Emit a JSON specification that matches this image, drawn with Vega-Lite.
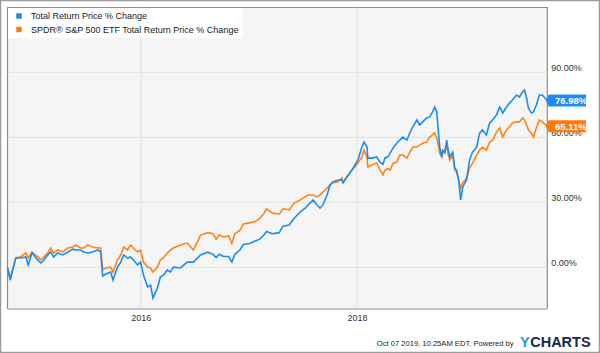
{
  "$schema": "https://vega.github.io/schema/vega-lite/v6.json",
  "width": 600,
  "height": 353,
  "padding": 0,
  "autosize": {"type": "none"},
  "background": "white",
  "config": {
    "view": {"stroke": "#9b9b9b", "strokeWidth": 2.5},
    "font": "Liberation Sans"
  },
  "title": {
    "text": "Y",
    "orient": "bottom",
    "anchor": "start",
    "frame": "group",
    "dx": 520,
    "offset": -6.3,
    "baseline": "alphabetic",
    "fontSize": 14.5,
    "fontWeight": "bold",
    "color": "#2196f3",
    "font": "Liberation Sans"
  },
  "datasets": {
    "frame": [{"date": "2014-10-07", "date2": "2019-10-07", "value": 119.9, "value2": -19}],
    "hgrid": [
      {"date": "2014-10-07", "date2": "2019-10-07", "value": 0},
      {"date": "2014-10-07", "date2": "2019-10-07", "value": 30},
      {"date": "2014-10-07", "date2": "2019-10-07", "value": 60},
      {"date": "2014-10-07", "date2": "2019-10-07", "value": 90}
    ],
    "vgrid": [
      {"date": "2016-01-01", "value": -19, "value2": 119.9},
      {"date": "2018-01-01", "value": -19, "value2": 119.9}
    ],
    "badges": [
      {"date": "2019-10-07", "value": 76.98, "key": "stock", "label": "76.98%"},
      {"date": "2019-10-07", "value": 65.11, "key": "spy", "label": "65.11%"}
    ],
    "prices": [
      {"date": "2014-10-07", "stock": 0, "spy": 0},
      {"date": "2014-10-16", "stock": -5.9, "spy": -4.9},
      {"date": "2014-11-04", "stock": 4.3, "spy": 4.3},
      {"date": "2014-11-21", "stock": 4.3, "spy": 4.9},
      {"date": "2014-12-08", "stock": 4.8, "spy": 6.6},
      {"date": "2014-12-16", "stock": 1.1, "spy": 4.3},
      {"date": "2014-12-29", "stock": 6.6, "spy": 7.1},
      {"date": "2015-01-17", "stock": 3.4, "spy": 4.8},
      {"date": "2015-01-28", "stock": 2.0, "spy": 3.4},
      {"date": "2015-02-07", "stock": 3.4, "spy": 4.8},
      {"date": "2015-02-20", "stock": 5.7, "spy": 6.6},
      {"date": "2015-03-02", "stock": 7.1, "spy": 8.9},
      {"date": "2015-03-12", "stock": 4.8, "spy": 6.6},
      {"date": "2015-03-26", "stock": 6.6, "spy": 8.0},
      {"date": "2015-04-12", "stock": 5.7, "spy": 7.1},
      {"date": "2015-04-29", "stock": 7.1, "spy": 8.9},
      {"date": "2015-05-16", "stock": 8.4, "spy": 9.4},
      {"date": "2015-05-26", "stock": 8.0, "spy": 10.3},
      {"date": "2015-06-11", "stock": 8.0, "spy": 8.9},
      {"date": "2015-06-22", "stock": 7.1, "spy": 8.9},
      {"date": "2015-07-05", "stock": 6.6, "spy": 10.3},
      {"date": "2015-07-22", "stock": 7.1, "spy": 9.4},
      {"date": "2015-08-08", "stock": 8.0, "spy": 8.9},
      {"date": "2015-08-18", "stock": 7.1, "spy": 8.9},
      {"date": "2015-08-25", "stock": -4.0, "spy": -1.2},
      {"date": "2015-09-04", "stock": -3.1, "spy": -0.3},
      {"date": "2015-09-21", "stock": -2.2, "spy": 0.1},
      {"date": "2015-09-29", "stock": -5.9, "spy": -2.2},
      {"date": "2015-10-14", "stock": 0.1, "spy": 3.4},
      {"date": "2015-10-25", "stock": 2.4, "spy": 5.7},
      {"date": "2015-11-04", "stock": 5.7, "spy": 9.4},
      {"date": "2015-11-17", "stock": 4.3, "spy": 8.0},
      {"date": "2015-11-27", "stock": 4.8, "spy": 10.3},
      {"date": "2015-12-07", "stock": 3.4, "spy": 8.9},
      {"date": "2015-12-21", "stock": 1.1, "spy": 7.1},
      {"date": "2015-12-31", "stock": 2.4, "spy": 8.0},
      {"date": "2016-01-10", "stock": -3.6, "spy": 2.4},
      {"date": "2016-01-24", "stock": -9.1, "spy": 0.1},
      {"date": "2016-02-03", "stock": -8.2, "spy": -0.3},
      {"date": "2016-02-11", "stock": -14.2, "spy": -2.2},
      {"date": "2016-02-26", "stock": -9.6, "spy": 0.1},
      {"date": "2016-03-07", "stock": -4.5, "spy": 3.4},
      {"date": "2016-03-17", "stock": -3.6, "spy": 4.3},
      {"date": "2016-03-31", "stock": -1.2, "spy": 6.6},
      {"date": "2016-04-10", "stock": -2.2, "spy": 8.0},
      {"date": "2016-04-20", "stock": 0.1, "spy": 8.9},
      {"date": "2016-05-14", "stock": -0.3, "spy": 10.3},
      {"date": "2016-06-06", "stock": 2.4, "spy": 11.2},
      {"date": "2016-06-27", "stock": 2.4, "spy": 8.0},
      {"date": "2016-07-21", "stock": 5.7, "spy": 14.9},
      {"date": "2016-08-15", "stock": 7.0, "spy": 16.0},
      {"date": "2016-09-01", "stock": 6.0, "spy": 15.5},
      {"date": "2016-09-12", "stock": 4.5, "spy": 13.0},
      {"date": "2016-09-22", "stock": 6.0, "spy": 15.0},
      {"date": "2016-10-07", "stock": 5.0, "spy": 14.0},
      {"date": "2016-10-24", "stock": 5.0, "spy": 14.5},
      {"date": "2016-11-04", "stock": 2.5, "spy": 11.0},
      {"date": "2016-11-14", "stock": 6.0, "spy": 15.5},
      {"date": "2016-12-01", "stock": 8.0, "spy": 17.0},
      {"date": "2016-12-13", "stock": 10.5, "spy": 20.0},
      {"date": "2017-01-03", "stock": 11.0, "spy": 20.5},
      {"date": "2017-01-20", "stock": 12.0, "spy": 21.0},
      {"date": "2017-02-06", "stock": 13.0, "spy": 22.5},
      {"date": "2017-02-21", "stock": 15.0, "spy": 25.0},
      {"date": "2017-03-01", "stock": 16.5, "spy": 27.0},
      {"date": "2017-03-21", "stock": 15.5, "spy": 25.0},
      {"date": "2017-04-13", "stock": 16.0, "spy": 24.5},
      {"date": "2017-04-26", "stock": 19.0, "spy": 27.0},
      {"date": "2017-05-17", "stock": 19.5, "spy": 26.5},
      {"date": "2017-06-02", "stock": 22.5, "spy": 29.5},
      {"date": "2017-06-23", "stock": 25.5, "spy": 31.1},
      {"date": "2017-07-10", "stock": 27.3, "spy": 32.6},
      {"date": "2017-07-20", "stock": 28.8, "spy": 33.4},
      {"date": "2017-08-06", "stock": 31.1, "spy": 33.4},
      {"date": "2017-08-19", "stock": 28.8, "spy": 32.5},
      {"date": "2017-08-29", "stock": 27.3, "spy": 33.4},
      {"date": "2017-09-08", "stock": 28.8, "spy": 34.7},
      {"date": "2017-09-22", "stock": 33.4, "spy": 36.6},
      {"date": "2017-10-02", "stock": 38.0, "spy": 38.0},
      {"date": "2017-10-12", "stock": 39.4, "spy": 39.0},
      {"date": "2017-10-29", "stock": 40.3, "spy": 39.4},
      {"date": "2017-11-11", "stock": 40.3, "spy": 41.2},
      {"date": "2017-11-15", "stock": 38.9, "spy": 39.4},
      {"date": "2017-11-28", "stock": 41.7, "spy": 41.7},
      {"date": "2017-12-15", "stock": 44.9, "spy": 44.9},
      {"date": "2017-12-25", "stock": 47.2, "spy": 46.3},
      {"date": "2018-01-04", "stock": 49.5, "spy": 48.1},
      {"date": "2018-01-18", "stock": 55.5, "spy": 50.9},
      {"date": "2018-01-25", "stock": 57.8, "spy": 54.1},
      {"date": "2018-02-04", "stock": 55.5, "spy": 50.9},
      {"date": "2018-02-07", "stock": 50.4, "spy": 46.3},
      {"date": "2018-02-21", "stock": 50.4, "spy": 47.2},
      {"date": "2018-03-09", "stock": 50.9, "spy": 48.1},
      {"date": "2018-03-20", "stock": 48.5, "spy": 45.0},
      {"date": "2018-03-30", "stock": 47.5, "spy": 42.6},
      {"date": "2018-04-06", "stock": 50.5, "spy": 44.9},
      {"date": "2018-04-16", "stock": 51.0, "spy": 45.5},
      {"date": "2018-04-23", "stock": 52.7, "spy": 44.9},
      {"date": "2018-05-03", "stock": 55.0, "spy": 48.0},
      {"date": "2018-05-16", "stock": 57.4, "spy": 48.6},
      {"date": "2018-05-26", "stock": 58.7, "spy": 51.8},
      {"date": "2018-06-05", "stock": 60.1, "spy": 51.8},
      {"date": "2018-06-19", "stock": 58.7, "spy": 50.4},
      {"date": "2018-06-29", "stock": 62.0, "spy": 53.2},
      {"date": "2018-07-09", "stock": 64.8, "spy": 55.5},
      {"date": "2018-07-23", "stock": 68.0, "spy": 55.5},
      {"date": "2018-08-01", "stock": 65.7, "spy": 56.4},
      {"date": "2018-08-12", "stock": 67.1, "spy": 57.3},
      {"date": "2018-08-25", "stock": 68.9, "spy": 57.8},
      {"date": "2018-09-04", "stock": 69.4, "spy": 60.1},
      {"date": "2018-09-14", "stock": 71.7, "spy": 61.1},
      {"date": "2018-09-21", "stock": 74.0, "spy": 62.0},
      {"date": "2018-09-28", "stock": 71.7, "spy": 59.7},
      {"date": "2018-10-04", "stock": 62.0, "spy": 56.0},
      {"date": "2018-10-08", "stock": 55.5, "spy": 52.7},
      {"date": "2018-10-15", "stock": 50.9, "spy": 50.9},
      {"date": "2018-10-18", "stock": 54.1, "spy": 53.2},
      {"date": "2018-10-25", "stock": 53.2, "spy": 52.7},
      {"date": "2018-11-01", "stock": 58.7, "spy": 56.4},
      {"date": "2018-11-04", "stock": 55.5, "spy": 53.2},
      {"date": "2018-11-11", "stock": 50.9, "spy": 49.5},
      {"date": "2018-11-21", "stock": 53.2, "spy": 51.8},
      {"date": "2018-11-28", "stock": 45.8, "spy": 44.9},
      {"date": "2018-12-04", "stock": 44.9, "spy": 44.0},
      {"date": "2018-12-11", "stock": 40.3, "spy": 40.3},
      {"date": "2018-12-18", "stock": 31.1, "spy": 36.6},
      {"date": "2018-12-25", "stock": 37.1, "spy": 38.9},
      {"date": "2019-01-07", "stock": 40.3, "spy": 41.2},
      {"date": "2019-01-17", "stock": 49.5, "spy": 45.8},
      {"date": "2019-01-27", "stock": 53.2, "spy": 48.1},
      {"date": "2019-02-10", "stock": 55.5, "spy": 51.8},
      {"date": "2019-02-20", "stock": 61.9, "spy": 54.1},
      {"date": "2019-03-02", "stock": 63.4, "spy": 55.5},
      {"date": "2019-03-15", "stock": 61.1, "spy": 54.1},
      {"date": "2019-03-26", "stock": 66.6, "spy": 57.8},
      {"date": "2019-04-05", "stock": 68.0, "spy": 58.7},
      {"date": "2019-04-18", "stock": 70.3, "spy": 62.4},
      {"date": "2019-04-29", "stock": 74.0, "spy": 64.3},
      {"date": "2019-05-09", "stock": 71.2, "spy": 60.1},
      {"date": "2019-05-22", "stock": 74.0, "spy": 63.4},
      {"date": "2019-06-01", "stock": 75.8, "spy": 64.8},
      {"date": "2019-06-11", "stock": 77.2, "spy": 66.6},
      {"date": "2019-06-25", "stock": 79.5, "spy": 67.1},
      {"date": "2019-07-05", "stock": 78.6, "spy": 67.1},
      {"date": "2019-07-15", "stock": 80.9, "spy": 68.9},
      {"date": "2019-07-22", "stock": 81.8, "spy": 68.0},
      {"date": "2019-07-29", "stock": 78.1, "spy": 65.7},
      {"date": "2019-08-04", "stock": 73.5, "spy": 63.4},
      {"date": "2019-08-14", "stock": 71.2, "spy": 62.0},
      {"date": "2019-08-21", "stock": 71.7, "spy": 60.1},
      {"date": "2019-08-31", "stock": 74.9, "spy": 64.3},
      {"date": "2019-09-10", "stock": 79.5, "spy": 68.0},
      {"date": "2019-09-20", "stock": 79.5, "spy": 67.1},
      {"date": "2019-10-07", "stock": 76.98, "spy": 65.11}
    ]
  },
  "encoding": {
    "x": {
      "field": "date",
      "type": "temporal",
      "scale": {
        "type": "utc",
        "domain": [{"year": 2014, "month": 10, "date": 7, "utc": true}, {"year": 2019, "month": 10, "date": 7, "utc": true}],
        "range": [7.5, 547.3]
      },
      "axis": {
        "orient": "bottom",
        "offset": -44.5,
        "values": [{"year": 2016, "month": 1, "date": 1, "utc": true}, {"year": 2018, "month": 1, "date": 1, "utc": true}],
        "format": "%Y",
        "labelFontSize": 9,
        "labelColor": "#333333",
        "labelPadding": 5,
        "labelFlush": false,
        "labelOverlap": false,
        "ticks": false,
        "grid": false,
        "domain": true,
        "domainColor": "#c4c4c4",
        "domainWidth": 2,
        "zindex": 1,
        "title": "Oct 07 2019, 10:25AM EDT.  Powered by",
        "titleFont": "'Liberation Sans Narrow', 'Liberation Sans'",
        "titleFontSize": 7.6,
        "titleFontWeight": "normal",
        "titleColor": "#222222",
        "titleAlign": "right",
        "titleBaseline": "alphabetic",
        "titleX": 513,
        "titleY": 37.3
      }
    },
    "y": {
      "field": "value",
      "type": "quantitative",
      "scale": {"domain": [-19, 119.9], "range": [308.5, 7.5], "nice": false, "zero": false},
      "axis": {
        "orient": "right",
        "offset": -52.7,
        "values": [0, 30, 60, 90],
        "labelExpr": "format(datum.value, '.2f') + '%'",
        "labelFontSize": 9,
        "labelColor": "#333333",
        "labelPadding": 3.5,
        "labelBaseline": "alphabetic",
        "labelOffset": -2,
        "labelFlush": false,
        "labelOverlap": false,
        "ticks": false,
        "domain": false,
        "grid": false,
        "title": "CHARTS",
        "titleAngle": 0,
        "titleAlign": "left",
        "titleBaseline": "alphabetic",
        "titleX": -17.6,
        "titleY": 346.7,
        "titleFontSize": 14.5,
        "titleFontWeight": "bold",
        "titleColor": "#16294a"
      }
    }
  },
  "layer": [
    {
      "data": {"name": "frame"},
      "mark": {"type": "rect", "fill": "#f5f5f5", "stroke": "#8c8c8c", "strokeWidth": 1.2},
      "encoding": {"x2": {"field": "date2"}, "y2": {"field": "value2"}}
    },
    {
      "data": {"name": "hgrid"},
      "mark": {"type": "rule", "color": "#e2e2e2", "strokeWidth": 1},
      "encoding": {"x2": {"field": "date2"}}
    },
    {
      "data": {"name": "vgrid"},
      "mark": {"type": "rule", "color": "#e2e2e2", "strokeWidth": 1},
      "encoding": {"y2": {"field": "value2"}}
    },
    {
      "data": {"name": "prices"},
      "transform": [{"fold": ["stock", "spy"]}, {"filter": "datum.key == 'spy'"}],
      "mark": {"type": "line", "strokeWidth": 1.6},
      "encoding": {
        "color": {
          "field": "key",
          "type": "nominal",
          "scale": {"domain": ["stock", "spy"], "range": ["#1d8cf2", "#ff8317"]},
          "legend": {
            "orient": "top-left",
            "offset": 8,
            "title": null,
            "fillColor": "white",
            "padding": 3.5,
            "symbolType": "square",
            "symbolSize": 30,
            "symbolStrokeWidth": 0,
            "symbolOffset": 3,
            "labelOffset": 7.5,
            "labelFontSize": 9,
            "labelColor": "#222222",
            "labelLimit": 400,
            "rowPadding": 3.5,
            "labelExpr": "datum.value == 'stock' ? 'Total Return Price % Change' : 'SPDR® S&P 500 ETF Total Return Price % Change'",
            "encode": {"symbols": {"update": {"fill": {"scale": "color", "field": "value"}, "opacity": {"value": 1}}}}
          }
        }
      }
    },
    {
      "data": {"name": "prices"},
      "transform": [{"fold": ["stock", "spy"]}, {"filter": "datum.key == 'stock'"}],
      "mark": {"type": "line", "strokeWidth": 1.6},
      "encoding": {
        "color": {
          "field": "key",
          "type": "nominal",
          "scale": {"domain": ["stock", "spy"], "range": ["#1d8cf2", "#ff8317"]}
        }
      }
    },
    {
      "data": {"name": "badges"},
      "mark": {
        "type": "point",
        "filled": true,
        "opacity": 1,
        "strokeWidth": 0,
        "size": 400,
        "shape": "M-0.15,0L0.15,-0.6L3.87,-0.6L3.87,0.6L0.15,0.6Z"
      },
      "encoding": {
        "fill": {
          "field": "key",
          "type": "nominal",
          "scale": {"domain": ["stock", "spy"], "range": ["#1d8cf2", "#ff7a0a"]},
          "legend": null
        }
      }
    },
    {
      "data": {"name": "badges"},
      "mark": {"type": "text", "align": "left", "baseline": "middle", "dx": 7.7, "dy": 0.5, "fontSize": 9.5, "fontWeight": "bold", "color": "white"},
      "encoding": {"text": {"field": "label"}}
    }
  ]
}
